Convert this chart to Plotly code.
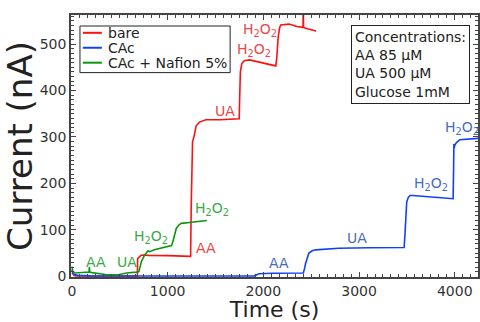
import plotly.graph_objects as go

# bare electrode
bare_t = [0, 8, 20, 40, 80, 200, 400, 600, 684, 686, 700, 720, 740, 800, 1000, 1200, 1240,
          1246, 1252, 1260, 1280, 1298, 1333, 1400, 1550, 1680, 1748, 1752, 1760, 1775,
          1800, 1855, 1950, 2050, 2130, 2140, 2155, 2170, 2182, 2268, 2350, 2412, 2415,
          2415, 2418, 2420, 2441, 2500, 2552]
bare_i = [8, 4, 2, 1, 0.5, 0.5, 0.5, 0.5, 1, 38, 42, 45, 46, 45, 44.5, 43.5, 43,
          150, 280, 289, 305, 324, 332, 337, 337, 338, 339, 380, 440, 458,
          464, 466, 462, 457, 453, 470, 515, 535, 541, 543, 538, 536, 536,
          575, 575, 536, 534, 531, 528]

# CAc electrode
cac_t = [0, 10, 25, 60, 200, 600, 1000, 1500, 1905, 1930, 1956, 2100, 2300, 2417,
         2430, 2442, 2476, 2510, 2546, 2650, 2788, 3100, 3471, 3480, 3498, 3515, 3533,
         3560, 3620, 3800, 3983, 3988, 3991, 3993, 3994, 4000, 4018, 4053, 4150, 4250]
cac_i = [14, 7, 4, 2, 1, 0.5, 0.5, 0.5, 1, 4, 5.6, 6.5, 7, 7,
         16, 28, 50, 55, 57, 59, 60.5, 61.5, 62, 90, 160, 170, 174,
         174, 173, 170, 167, 230, 285, 278, 276, 282, 288, 294, 296, 297]

# CAc + Nafion 5%
naf_t = [0, 9, 33, 100, 155, 178, 182, 186, 210, 259, 363, 484, 571, 675, 700,
         709, 726, 743, 761, 795, 813, 860, 917, 970, 1021, 1040, 1055, 1072, 1090,
         1115, 1142, 1229, 1320, 1409]
naf_i = [21, 10.7, 7, 8, 9, 9, 20, 9, 8, 7, 3.5, 3.5, 7, 9, 10,
         18, 32, 39, 46, 55, 53, 57, 60, 62, 64, 66, 75, 90, 103,
         110, 114, 116, 118, 120]

# analyte labels: (text, time, current)
bare_labels = [("AA", 1405, 60), ("UA", 1603, 355),
               ("H<sub>2</sub>O<sub>2</sub>", 1905, 488),
               ("H<sub>2</sub>O<sub>2</sub>", 1970, 531)]
naf_labels = [("AA", 252, 30), ("UA", 574, 30),
              ("H<sub>2</sub>O<sub>2</sub>", 823, 84),
              ("H<sub>2</sub>O<sub>2</sub>", 1468, 144)]
cac_labels = [("AA", 2165, 28), ("UA", 2975, 82),
              ("H<sub>2</sub>O<sub>2</sub>", 3755, 199),
              ("H<sub>2</sub>O<sub>2</sub>", 4078, 319)]

series_names = ["bare", "CAc", "CAc + Nafion 5%"]
conc_lines = ["Concentrations:", "AA 85 μM", "UA 500 μM", "Glucose 1mM"]

FONT = "DejaVu Sans"
RED, BLUE, GREEN = "#ff1010", "#1040ff", "#0a960a"
RED_TXT, BLUE_TXT, GREEN_TXT = "#e8484a", "#4a6cc0", "#3aaa48"
line_colors = [RED, BLUE, GREEN]

fig = go.Figure()
for name, t, i, col in zip(series_names, (bare_t, cac_t, naf_t), (bare_i, cac_i, naf_i), line_colors):
    fig.add_trace(go.Scatter(x=t, y=i, mode="lines", name=name,
                             line=dict(color=col, width=1.6), showlegend=False))

annotations = []
for labels, col in ((bare_labels, RED_TXT), (naf_labels, GREEN_TXT), (cac_labels, BLUE_TXT)):
    for text, t, i in labels:
        annotations.append(dict(x=t, y=i, xref="x", yref="y", text=text, showarrow=False,
                                font=dict(family=FONT, size=14, color=col)))

# concentration note, boxed, upper right
annotations.append(dict(x=0.98, y=0.962, xref="paper", yref="paper", xanchor="right",
                        yanchor="top", align="left", text="<br>".join(conc_lines),
                        showarrow=False, bordercolor="#222", borderwidth=1, borderpad=3,
                        bgcolor="white", font=dict(family=FONT, size=14, color="#222")))

# compact legend: framed box with short line samples
shapes = [dict(type="rect", xref="paper", yref="paper", x0=0.022, x1=0.391, y0=0.780, y1=0.958,
               line=dict(color="#222", width=1), fillcolor="white", layer="above")]
legend_rows = [0.932, 0.875, 0.818]
for name, col, yy in zip(series_names, line_colors, legend_rows):
    shapes.append(dict(type="line", xref="paper", yref="paper", x0=0.029, x1=0.0758,
                       y0=yy, y1=yy, line=dict(color=col, width=2), layer="above"))
    annotations.append(dict(x=0.0856, y=yy, xref="paper", yref="paper", xanchor="left",
                            yanchor="middle", text=name, showarrow=False,
                            font=dict(family=FONT, size=14, color="#222")))

axis_common = dict(showline=True, linecolor="#444", linewidth=1.5, mirror="ticks",
                   ticks="inside", ticklen=5, tickcolor="#444", showgrid=False,
                   zeroline=False, tickfont=dict(family=FONT, size=14, color="#333"))

fig.update_layout(
    width=480, height=322,
    margin=dict(l=71, r=0, t=15, b=43),
    paper_bgcolor="white", plot_bgcolor="white",
    showlegend=False,
    xaxis=dict(range=[-10, 4243], dtick=1000, tick0=0,
               minor=dict(ticks="inside", ticklen=3, dtick=1000 / 12, tickcolor="#444"),
               title=dict(text="Time (s)", font=dict(family=FONT, size=22, color="#222"),
                          standoff=8),
               **axis_common),
    yaxis=dict(range=[-1.5, 562.6], dtick=100, tick0=0,
               minor=dict(ticks="inside", ticklen=3, dtick=10, tickcolor="#444"),
               title=dict(text="Current (nA)", font=dict(family=FONT, size=34, color="#222"),
                          standoff=0),
               **axis_common),
    annotations=annotations,
    shapes=shapes,
)

fig.write_html("out.html")
